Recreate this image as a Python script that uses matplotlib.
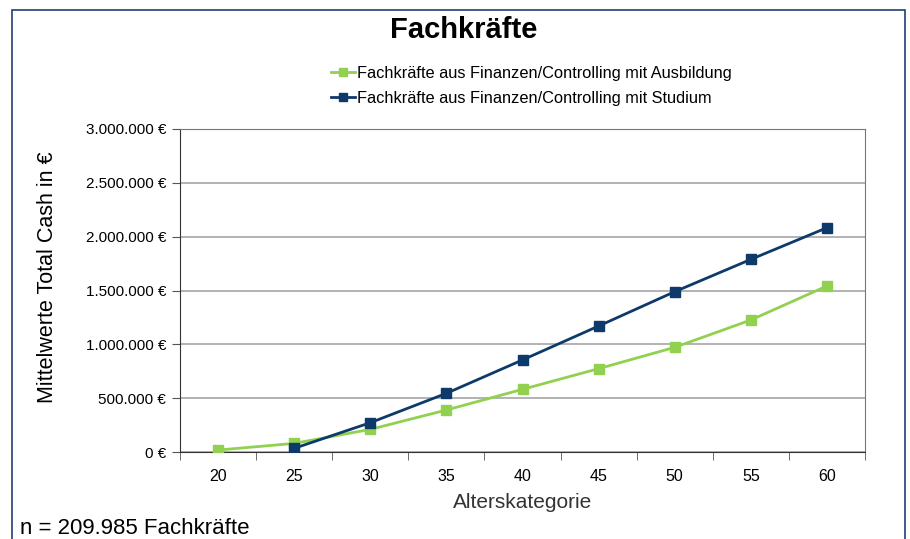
import matplotlib
matplotlib.use("Agg")
import matplotlib.pyplot as plt
from matplotlib.patches import Rectangle
from matplotlib.ticker import FuncFormatter, FixedLocator

plt.rcParams["font.family"] = ["Liberation Sans", "DejaVu Sans"]

AGE_GROUPS = ["20", "25", "30", "35", "40", "45", "50", "55", "60"]
AUSBILDUNG = [18000, 80000, 210000, 390000, 582000, 774000, 972000, 1226000, 1542000]
STUDIUM_AGES = ["25", "30", "35", "40", "45", "50", "55", "60"]
STUDIUM = [34000, 272000, 545000, 855000, 1170000, 1489000, 1789000, 2083000]

LABEL_AUSBILDUNG = "Fachkräfte aus Finanzen/Controlling mit Ausbildung"
LABEL_STUDIUM = "Fachkräfte aus Finanzen/Controlling mit Studium"
GREEN = "#92d050"
NAVY = "#0e3a6b"


def euro(value, _pos):
    return "{:,.0f} €".format(value).replace(",", ".")


fig = plt.figure(figsize=(9.1, 5.39), dpi=100)

# outer frame of the chart area
fig.patches.append(Rectangle((12 / 910, -0.05), 893 / 910, 1 - 10 / 539 + 0.05,
                             transform=fig.transFigure, fill=False,
                             edgecolor="#1f3f73", linewidth=1.2))

ax = fig.add_axes([180 / 910, 1 - 452 / 539, 685 / 910, 323 / 539])

x_all = list(range(len(AGE_GROUPS)))
x_stud = [AGE_GROUPS.index(a) for a in STUDIUM_AGES]

line_a, = ax.plot(x_all, AUSBILDUNG, color=GREEN, linewidth=2, marker="s",
                  markersize=7, label=LABEL_AUSBILDUNG, zorder=3)
line_s, = ax.plot(x_stud, STUDIUM, color=NAVY, linewidth=2, marker="s",
                  markersize=7, label=LABEL_STUDIUM, zorder=4)

ax.set_xlim(-0.5, len(AGE_GROUPS) - 0.5)
ax.set_ylim(0, 3000000)
ax.set_yticks(range(0, 3000001, 500000))
ax.yaxis.set_major_formatter(FuncFormatter(euro))
ax.grid(axis="y", color="#a6a6a6", linewidth=1.2)
ax.set_axisbelow(True)

ax.set_xticks(x_all)
ax.set_xticklabels(AGE_GROUPS)
ax.xaxis.set_minor_locator(FixedLocator([i - 0.5 for i in range(len(AGE_GROUPS) + 1)]))
ax.tick_params(axis="x", which="major", length=0, pad=12, labelsize=11.5)
ax.tick_params(axis="x", which="minor", length=6, color="#555555")
ax.tick_params(axis="y", length=6, color="#555555", labelsize=11, pad=4)

for side in ["left", "bottom"]:
    ax.spines[side].set_color("#333333")
for side in ["top", "right"]:
    ax.spines[side].set_color("#777777")

ax.set_xlabel("Alterskategorie", fontsize=15, color="#333333", labelpad=7)
ax.set_ylabel("Mittelwerte Total Cash in €", fontsize=15.5)
ax.yaxis.set_label_coords(-0.178, 0.542)

fig.text(464 / 910, 1 - 30 / 539, "Fachkräfte", ha="center", va="center",
         fontsize=21, fontweight="bold")

fig.legend(handles=[line_a, line_s], loc="center left",
           bbox_to_anchor=(316 / 910, 1 - 86 / 539), frameon=False,
           fontsize=11.8, handlelength=1.5, handletextpad=0.1,
           labelspacing=0.6, markerscale=0.85)

fig.text(20 / 910, 1 - 528 / 539, "n = 209.985 Fachkräfte", ha="left",
         va="center", fontsize=16)

fig.savefig("out.png", dpi=100)
